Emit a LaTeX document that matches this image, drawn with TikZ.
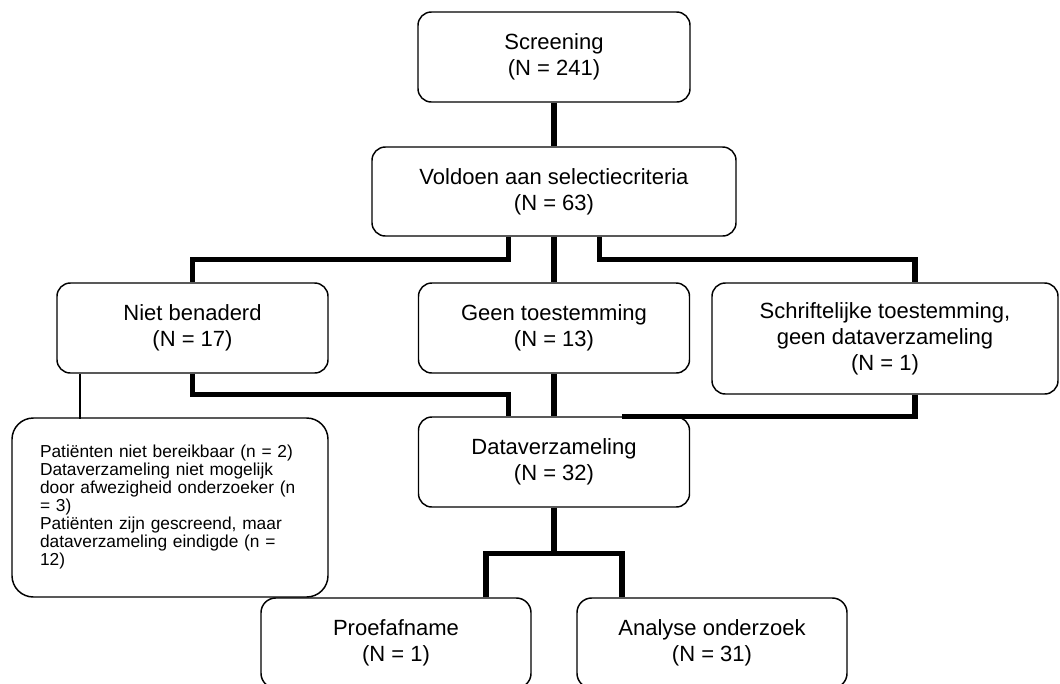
\documentclass[tikz,border=0pt]{standalone}
\usepackage{fontspec}
\setmainfont{Liberation Sans}
\usepackage{tikz}
\tikzstyle{box} = [draw, line width=1.1pt, rounded corners=10pt, align=center,
    minimum width=203.25pt, minimum height=67.5pt, inner sep=0pt,
    font=\fontsize{16.5}{19.5}\selectfont]
\tikzstyle{link} = [line width=4pt]
\tikzstyle{thin} = [line width=0.9pt]

\begin{document}
\begin{tikzpicture}[x=0.75pt, y=-0.75pt]
\useasboundingbox (0,0) rectangle (1060,683);
\clip (0,0) rectangle (1060,683);

\node[box, minimum width=204pt] (screen) at (554,57) {Screening\\(N = 241)};
\node[box, minimum width=273pt, minimum height=66.75pt] (select) at (554,191.5)
    {Voldoen aan selectiecriteria\\(N = 63)};
\node[box] (niet) at (192.5,328) {Niet benaderd\\(N = 17)};
\node[box] (geen) at (554,328) {Geen toestemming\\(N = 13)};
\node[box, minimum width=259.5pt, minimum height=83.25pt] (schrift) at (885,338.5)
    {Schriftelijke toestemming,\\geen dataverzameling\\(N = 1)};
\node[box, rounded corners=16pt, minimum width=237pt, minimum height=134.25pt,
    text width=195pt, align=left, font=\fontsize{13}{13.5}\selectfont] (reden) at (170,507.5)
    {Patiënten niet bereikbaar (n = 2)\\
     Dataverzameling niet mogelijk\\
     door afwezigheid onderzoeker (n\\
     = 3)\\
     Patiënten zijn gescreend, maar\\
     dataverzameling eindigde (n =\\
     12)};
\node[box] (data) at (554,462) {Dataverzameling\\(N = 32)};
\node[box, rounded corners=11pt, minimum width=202.5pt] (proef) at (396,643)
    {Proefafname\\(N = 1)};
\node[box, rounded corners=11pt, minimum width=202.5pt] (analyse) at (712,643)
    {Analyse onderzoek\\(N = 31)};

% screening en selectie
\draw[link] (screen.south) -- (select.north);
\draw[link] ([xshift=-34pt]select.south) -- ++(0,-17.25pt) -| (niet.north);
\draw[link] (select.south) -- (geen.north);
\draw[link] ([xshift=34pt]select.south) -- ++(0,-17.25pt) -| ([xshift=22.5pt]schrift.north);

% naar dataverzameling
\draw[link] (niet.south) -- ++(0,-15.75pt) -| ([xshift=-34pt]data.north);
\draw[link] (geen.south) -- (data.north);
\draw[link] ([xshift=22.5pt]schrift.south) |- ([xshift=51pt]data.north);
\draw[thin] ([xshift=-84.4pt]niet.south) -- ++(0,-33.75pt);

% uitkomst
\draw[link] (data.south) -- ++(0,-34.5pt) coordinate (split);
\draw[link] ([xshift=67.5pt]proef.north) |- (split) -| ([xshift=-67.5pt]analyse.north);
\end{tikzpicture}
\end{document}
